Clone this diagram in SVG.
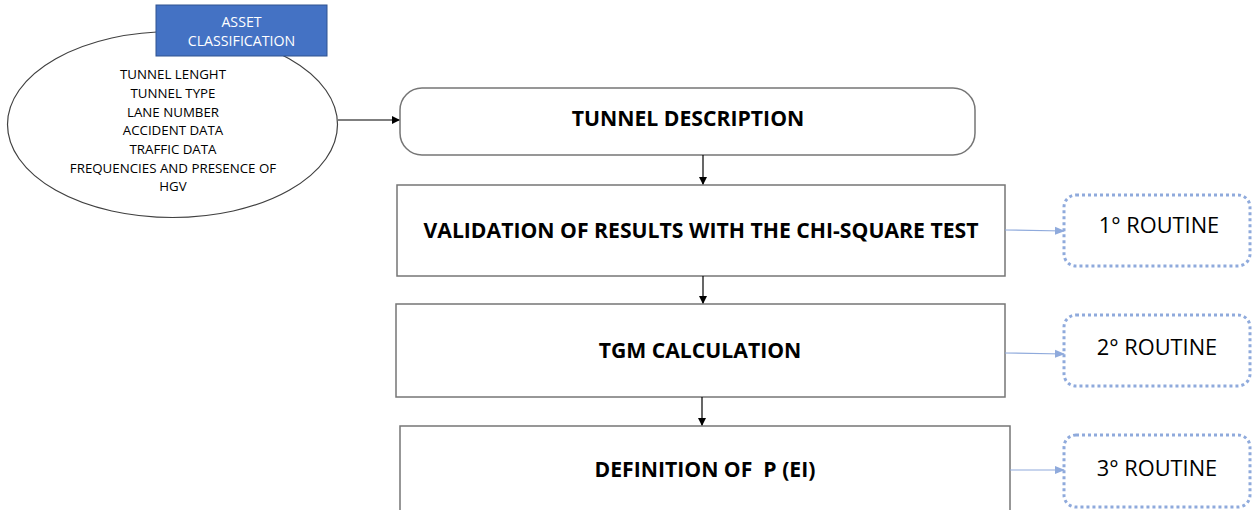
<svg xmlns="http://www.w3.org/2000/svg" width="1255" height="510" viewBox="0 0 1255 510">
<style>
.box{fill:#fff;stroke:#767676;stroke-width:1.5}
.t{font-family:"Open Sans","Liberation Sans",sans-serif;fill:#000}
.bt{font-family:"Open Sans","Liberation Sans",sans-serif;font-weight:bold;font-size:21.2px;text-anchor:middle;fill:#000;white-space:pre}
.small{font-size:13.3px;text-anchor:middle}
.rt{fill:#fff;stroke:#8FAADC;stroke-width:3;stroke-dasharray:3 3}
.rtext{font-family:"Open Sans","Liberation Sans",sans-serif;font-size:21.8px;text-anchor:middle;fill:#000}
.conn{stroke:#000;stroke-width:1.2;fill:none}
.bconn{stroke:#8FAADC;stroke-width:1.2;fill:none}
</style>
<defs>
<marker id="ah" markerWidth="8" markerHeight="8" refX="7" refY="4" orient="auto" markerUnits="userSpaceOnUse"><path d="M0,0 L8,4 L0,8 Z" fill="#000"/></marker>
<marker id="bh" markerWidth="10" markerHeight="10" refX="9" refY="5" orient="auto" markerUnits="userSpaceOnUse"><path d="M0,1 L10,5 L0,9 Z" fill="#8FAADC"/></marker>
</defs>
<rect width="1255" height="510" fill="#fff"/>
<g id="ellipse-node">
<ellipse cx="172.5" cy="124.5" rx="165" ry="93" fill="#fff" stroke="#404040" stroke-width="1.2"/>
<text class="t small"><tspan x="173" y="79">TUNNEL LENGHT</tspan><tspan x="173" y="98">TUNNEL TYPE</tspan><tspan x="173" y="117">LANE NUMBER</tspan><tspan x="173" y="135">ACCIDENT DATA</tspan><tspan x="173" y="154">TRAFFIC DATA</tspan><tspan x="173" y="173">FREQUENCIES AND PRESENCE OF</tspan><tspan x="173" y="191">HGV</tspan></text>
</g>
<g id="asset-classification">
<rect x="156" y="5" width="171" height="51" fill="#4472C4" stroke="#2F528F" stroke-width="1"/>
<text class="t" style="fill:#fff;font-size:14.2px;text-anchor:middle"><tspan x="241.5" y="27">ASSET</tspan><tspan x="241.5" y="46">CLASSIFICATION</tspan></text>
</g>
<g id="tunnel-description">
<rect class="box" x="400" y="88" width="575" height="67" rx="22" ry="22"/>
<text class="bt" x="688" y="126">TUNNEL DESCRIPTION</text>
</g>
<g id="validation">
<rect class="box" x="397" y="185" width="608" height="91"/>
<text class="bt" x="701" y="238">VALIDATION OF RESULTS WITH THE CHI-SQUARE TEST</text>
</g>
<g id="tgm">
<rect class="box" x="396" y="304" width="609" height="93"/>
<text class="bt" x="700" y="358">TGM CALCULATION</text>
</g>
<g id="definition">
<rect class="box" x="400" y="426" width="610" height="100"/>
<text class="bt" x="705" y="477">DEFINITION OF  P (EI)</text>
</g>
<g id="routine1">
<rect class="rt" x="1064" y="195" width="186" height="71" rx="12"/>
<text class="rtext" x="1159" y="233">1° ROUTINE</text>
</g>
<g id="routine2">
<rect class="rt" x="1064" y="315" width="186" height="71" rx="12"/>
<text class="rtext" x="1157" y="355">2° ROUTINE</text>
</g>
<g id="routine3">
<rect class="rt" x="1064" y="435" width="186" height="72" rx="12"/>
<text class="rtext" x="1157" y="476">3° ROUTINE</text>
</g>
<g id="connectors">
<line class="conn" x1="338" y1="120" x2="399" y2="120" marker-end="url(#ah)"/>
<line class="conn" x1="703" y1="155" x2="703" y2="184" marker-end="url(#ah)"/>
<line class="conn" x1="703" y1="276" x2="703" y2="303" marker-end="url(#ah)"/>
<line class="conn" x1="702" y1="397" x2="702" y2="425" marker-end="url(#ah)"/>
<line class="bconn" x1="1005" y1="230" x2="1064" y2="231" marker-end="url(#bh)"/>
<line class="bconn" x1="1005" y1="353" x2="1064" y2="354" marker-end="url(#bh)"/>
<line class="bconn" x1="1010" y1="470" x2="1064" y2="470" marker-end="url(#bh)"/>
</g>
</svg>
